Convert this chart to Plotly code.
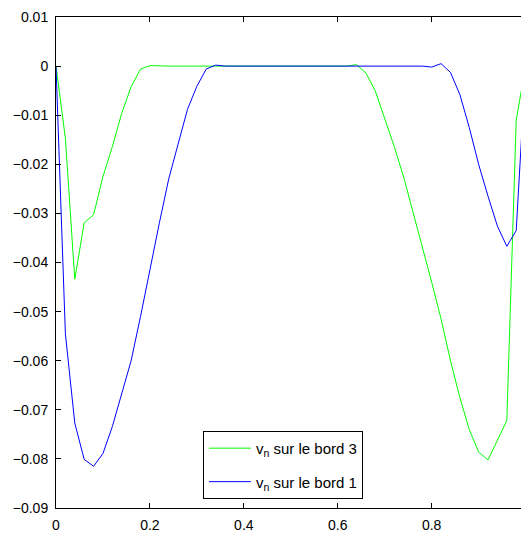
import plotly.graph_objects as go

x_vals = [round(i * 0.02, 2) for i in range(51)]

# v_n sur le bord 3 (green)
bord3 = [0.0, -0.0147, -0.0434, -0.0319, -0.0303, -0.0225, -0.0164, -0.0096, -0.0042, -0.0006,
         0.0001, 0.0, 0.0, 0.0, 0.0, 0.0, 0.0, 0.0, 0.0, 0.0,
         0.0, 0.0, 0.0, 0.0, 0.0, 0.0, 0.0, 0.0, 0.0, 0.0,
         0.0, 0.0, 0.0003, -0.0014, -0.0051, -0.0106, -0.0163, -0.0225, -0.0295, -0.0370,
         -0.0440, -0.0515, -0.0600, -0.0675, -0.0740, -0.0786, -0.0802, -0.0762, -0.0722, -0.0110,
         0.0]

# v_n sur le bord 1 (blue)
bord1 = [0.0, -0.0545, -0.0727, -0.0801, -0.0815, -0.0789, -0.0734, -0.0669, -0.0600, -0.0510,
         -0.0411, -0.0320, -0.0230, -0.0160, -0.0088, -0.0041, -0.0006, 0.0002, 0.0, 0.0,
         0.0, 0.0, 0.0, 0.0, 0.0, 0.0, 0.0, 0.0, 0.0, 0.0,
         0.0, 0.0, 0.0, 0.0, 0.0, 0.0, 0.0, 0.0, 0.0, 0.0,
         -0.0002, 0.0005, -0.0013, -0.0058, -0.0125, -0.0200, -0.0265, -0.0326, -0.0367, -0.0335,
         0.0]

x_ticks = [0, 0.2, 0.4, 0.6, 0.8]
x_tick_labels = ["0", "0.2", "0.4", "0.6", "0.8"]
y_ticks = [0.01, 0, -0.01, -0.02, -0.03, -0.04, -0.05, -0.06, -0.07, -0.08, -0.09]
y_tick_labels = ["0.01", "0", "\u22120.01", "\u22120.02", "\u22120.03", "\u22120.04", "\u22120.05",
                 "\u22120.06", "\u22120.07", "\u22120.08", "\u22120.09"]

fig = go.Figure()
fig.add_trace(go.Scatter(x=x_vals, y=bord3, mode="lines", name="v<sub>n</sub> sur le bord 3",
                         line=dict(color="#00FF00", width=1), legendgroup="g3"))
fig.add_trace(go.Scatter(x=x_vals, y=bord1, mode="lines", name="v<sub>n</sub> sur le bord 1",
                         line=dict(color="#0000FF", width=1), legendgroup="g1"))

font = dict(family="Liberation Sans, Arial, Helvetica, sans-serif", size=14, color="black")
legend_font = dict(family="Liberation Sans, Arial, Helvetica, sans-serif", size=15, color="black")

fig.update_layout(
    width=521, height=533,
    margin=dict(l=56, r=0, t=17, b=25),
    paper_bgcolor="white", plot_bgcolor="white",
    font=font,
    showlegend=True,
    legend=dict(x=0.316, y=0.157, xanchor="left", yanchor="top",
                bgcolor="white", bordercolor="black", borderwidth=1,
                font=legend_font, tracegroupgap=11, itemwidth=42, traceorder="grouped"),
    xaxis=dict(range=[0, 0.9902], tickvals=x_ticks, ticktext=x_tick_labels,
               showgrid=False, zeroline=False, showline=True, linecolor="black", linewidth=1,
               mirror="ticks", ticks="inside", ticklen=5, tickcolor="black", tickfont=font,
               ticklabelstandoff=4, automargin=False),
    yaxis=dict(range=[-0.09, 0.01], tickvals=y_ticks, ticktext=y_tick_labels,
               showgrid=False, zeroline=False, showline=True, linecolor="black", linewidth=1,
               mirror=False, ticks="inside", ticklen=5, tickcolor="black", tickfont=font,
               ticklabelstandoff=4, automargin=False),
)

fig.write_html("out.html", config={"displayModeBar": False},
               post_script="document.body.style.margin='0px';document.body.style.overflow='hidden';")
